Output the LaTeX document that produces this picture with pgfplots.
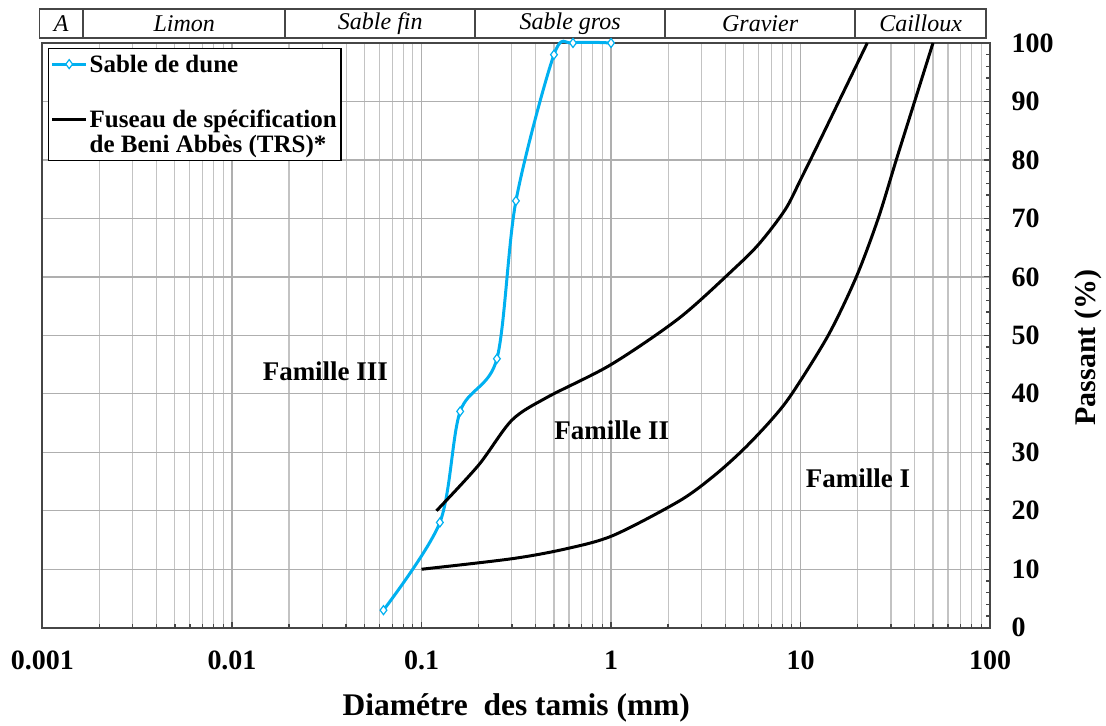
\documentclass[border=0pt]{standalone}
\usepackage{fontspec}
\setmainfont{Liberation Serif}
\usepackage{pgfplots}
\pgfplotsset{compat=1.18}
\definecolor{dune}{RGB}{0,176,240}
\definecolor{gridc}{RGB}{195,195,195}
\definecolor{axc}{RGB}{70,70,70}
\begin{document}
\begin{tikzpicture}
\begin{axis}[
 name=ax,
 scale only axis, width=948pt, height=585pt,
 xmode=log, log basis x=10,
 xmin=0.001, xmax=100, ymin=0, ymax=100,
 xtick={0.001,0.01,0.1,1,10,100},
 xticklabels={0.001,0.01,0.1,1,10,100},
 minor xtick={0.002,0.003,0.004,0.005,0.006,0.007,0.008,0.009,
   0.02,0.03,0.04,0.05,0.06,0.07,0.08,0.09,
   0.2,0.3,0.4,0.5,0.6,0.7,0.8,0.9,
   2,3,4,5,6,7,8,9,
   20,30,40,50,60,70,80,90},
 ytick={0,10,...,100},
 minor y tick num=4,
 xtick pos=bottom, ytick pos=right, yticklabel pos=right,
 tick align=inside,
 major tick length=6pt, minor tick length=4pt,
 xmajorgrids, xminorgrids, ymajorgrids,
 major grid style={gridc!90!black, line width=1.3pt},
 minor grid style={gridc, line width=1.1pt},
 axis line style={axc, line width=2pt},
 every tick/.style={axc, line width=1.2pt},
 /pgf/number format/assume math mode=true,
 tick label style={font=\bfseries\fontsize{28}{30}\selectfont},
 xticklabel style={yshift=-20pt},
 yticklabel style={anchor=west, xshift=18pt},
 xlabel={Diamétre\ \ des tamis (mm)},
 xlabel style={font=\bfseries\fontsize{31.5}{33}\selectfont, at={(axis description cs:0.5,0)}, anchor=center, yshift=-80pt},
 ylabel={Passant (\%)},
 ylabel style={font=\bfseries\fontsize{30}{32}\selectfont, at={(axis description cs:1,0.479)}, anchor=center, yshift=-98pt},
 clip=false,
 legend cell align=left,
 legend style={at={(axis description cs:0.0058,0.9915)}, anchor=north west,
   draw=black, line width=1.5pt, fill=white,
   font=\bfseries\fontsize{25}{27}\selectfont,
   row sep=6.5pt, column sep=0pt, inner xsep=2pt, inner ysep=6pt,
   nodes={inner ysep=0pt, inner xsep=2pt}},
 legend image code/.code={\draw[mark repeat=2,mark phase=2,#1] plot coordinates {(0pt,0pt) (17pt,0pt) (34pt,0pt)};},
]
\addplot[dune, line width=3pt, smooth, tension=0.5, mark=diamond*, mark size=4.5pt,
  mark options={fill=white, draw=dune, line width=1.2pt}] coordinates {
 (0.063,3) (0.125,18) (0.16,37) (0.25,46) (0.315,73) (0.5,98) (0.63,100) (1,100)};
\addlegendentry{Sable de dune}
\addlegendimage{draw opacity=0}
\addlegendentry{\rule{0pt}{22pt}}
\addplot[black, line width=3pt, smooth, tension=0.5] coordinates {
 (0.12,20) (0.2,27.8) (0.3,35.5) (0.46,39.4) (1,45) (2.3,53) (4.5,61.5) (6.1,65.8) (8.3,71.5) (10,76.6) (12.6,83.2) (15.5,89.2) (22.5,100)};
\addlegendentry{Fuseau de spécification}
\addlegendimage{draw opacity=0}
\addlegendentry{de Beni Abbès (TRS)*\rule[-10pt]{0pt}{10pt}}
\addplot[black, line width=3pt, smooth, tension=0.5, forget plot] coordinates {
 (0.1,10) (0.3,11.8) (0.58,13.5) (1.03,15.8) (2.3,21.7) (3.5,26) (5,30.5) (7,35.5) (9,40) (14,50) (19.7,60) (25.7,70) (32,80) (40,90) (50,100)};
\node[font=\bfseries\fontsize{27}{29}\selectfont] at (axis cs:0.0311,43.8) {Famille III};
\node[font=\bfseries\fontsize{27}{29}\selectfont] at (axis cs:1.01,33.8) {Famille II};
\node[font=\bfseries\fontsize{27}{29}\selectfont] at (axis cs:20.1,25.6) {Famille I};
% classification band
\draw[line width=1.5pt, axc, fill=white] ([yshift=5pt]axis cs:0.000964,100) rectangle ([yshift=34pt]axis cs:95.3,100);
\draw[line width=1.5pt, axc] ([yshift=5pt]axis cs:0.00164,100) -- ([yshift=34pt]axis cs:0.00164,100);
\draw[line width=1.5pt, axc] ([yshift=5pt]axis cs:0.0191,100) -- ([yshift=34pt]axis cs:0.0191,100);
\draw[line width=1.5pt, axc] ([yshift=5pt]axis cs:0.192,100) -- ([yshift=34pt]axis cs:0.192,100);
\draw[line width=1.5pt, axc] ([yshift=5pt]axis cs:1.93,100) -- ([yshift=34pt]axis cs:1.93,100);
\draw[line width=1.5pt, axc] ([yshift=5pt]axis cs:19.4,100) -- ([yshift=34pt]axis cs:19.4,100);
\node[font=\itshape\fontsize{24}{26}\selectfont] at ([yshift=19.5pt]axis cs:0.001257,100) {A};
\node[font=\itshape\fontsize{24}{26}\selectfont] at ([yshift=19.5pt]axis cs:0.0056,100) {Limon};
\node[font=\itshape\fontsize{24}{26}\selectfont] at ([yshift=19.5pt]axis cs:0.0606,100) {Sable fin};
\node[font=\itshape\fontsize{24}{26}\selectfont] at ([yshift=19.5pt]axis cs:0.609,100) {Sable gros};
\node[font=\itshape\fontsize{24}{26}\selectfont] at ([yshift=19.5pt]axis cs:6.12,100) {Gravier};
\node[font=\itshape\fontsize{24}{26}\selectfont] at ([yshift=19.5pt]axis cs:43,100) {Cailloux};
\end{axis}
\path[use as bounding box] ([shift={(-42.5pt,-98pt)}]ax.south west) rectangle ([shift={(116pt,43pt)}]ax.north east);
\end{tikzpicture}
\end{document}
